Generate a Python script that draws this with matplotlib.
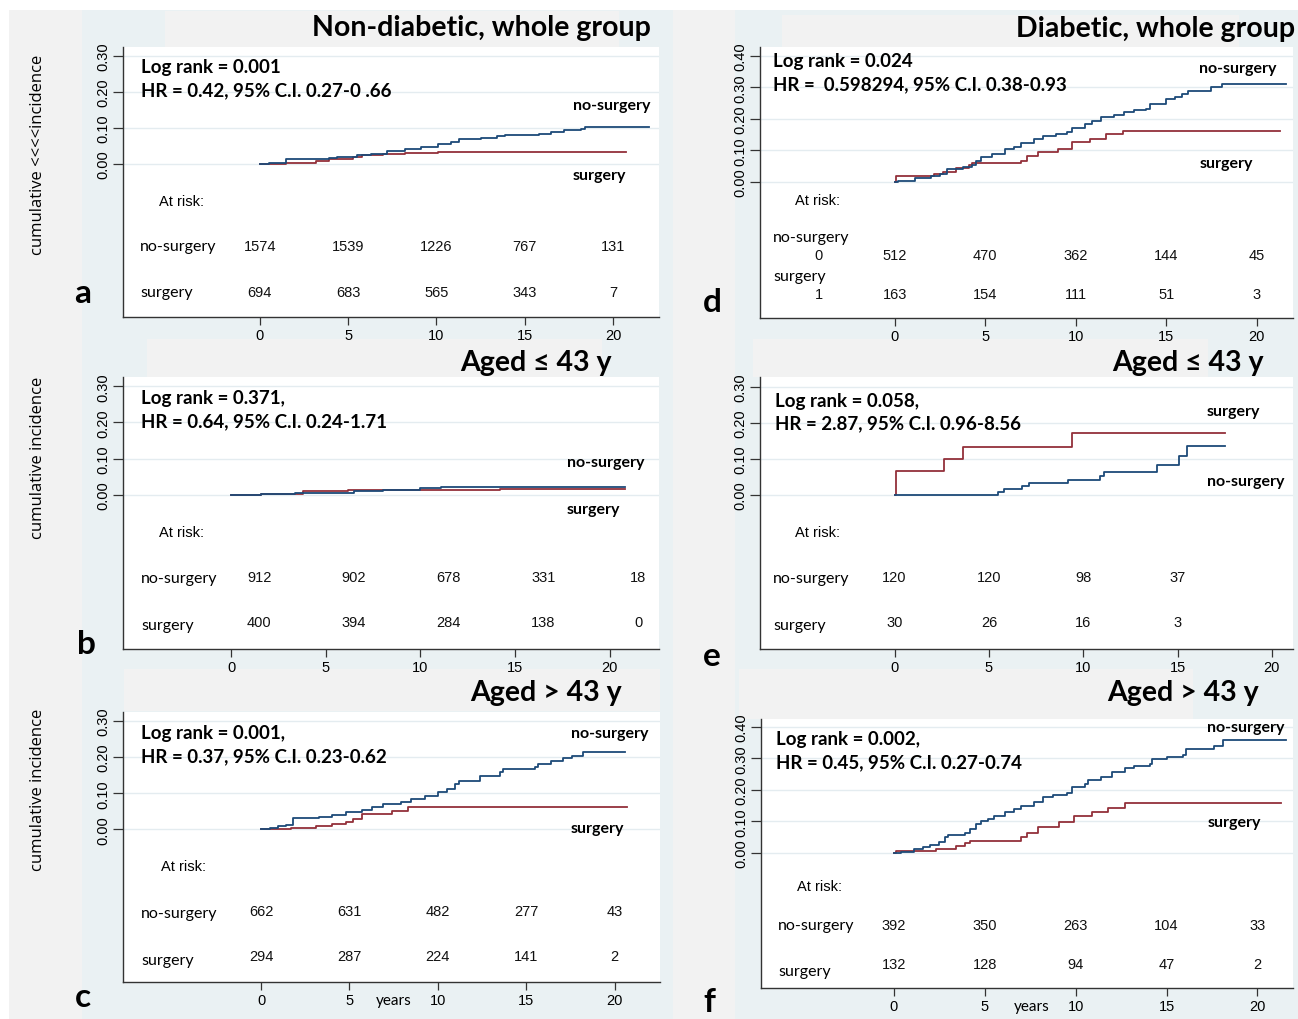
import matplotlib
matplotlib.use("Agg")
import matplotlib.pyplot as plt
import matplotlib.patches as patches
import matplotlib.transforms as mtransforms
from matplotlib.ticker import FormatStrFormatter

W, H = 1298, 1020

# ---------------- data ----------------
# panel a : non-diabetic, whole group
a_nos_t = [0, 0.5, 1.5, 3.9, 4.4, 5.5, 6.3, 7.2, 8.2, 9.1, 10.1, 10.8, 11.3, 12.5, 13.4, 13.9, 15.8, 16.5, 17.2, 18.2, 18.4, 22.0]
a_nos_v = [0, 0.004, 0.014, 0.017, 0.020, 0.024, 0.029, 0.035, 0.041, 0.047, 0.055, 0.061, 0.069, 0.072, 0.077, 0.081, 0.083, 0.089, 0.094, 0.098, 0.103, 0.103]
a_sur_t = [0, 1.5, 3.2, 3.9, 5.3, 5.8, 7.0, 8.2, 10.1, 14.1, 20.7]
a_sur_v = [0, 0.004, 0.008, 0.015, 0.019, 0.024, 0.027, 0.030, 0.032, 0.034, 0.034]
a_risk_nos = ["1574", "1539", "1226", "767", "131"]
a_risk_sur = ["694", "683", "565", "343", "7"]

# panel b : non-diabetic, aged <= 43
b_nos_t = [0, 1.6, 3.4, 5.1, 6.5, 8.0, 10.0, 11.1, 20.8]
b_nos_v = [0, 0.002, 0.004, 0.006, 0.011, 0.014, 0.018, 0.021, 0.021]
b_sur_t = [0, 1.6, 3.8, 6.2, 14.2, 20.8]
b_sur_v = [0, 0.003, 0.009, 0.012, 0.016, 0.016]
b_risk_nos = ["912", "902", "678", "331", "18"]
b_risk_sur = ["400", "394", "284", "138", "0"]

# panel c : non-diabetic, aged > 43
c_nos_t = [0, 0.5, 0.95, 1.4, 1.8, 3.3, 4.0, 4.8, 5.7, 6.3, 6.9, 7.9, 8.5, 9.3, 10.0, 10.5, 11.0, 11.2, 12.4, 13.5, 13.7, 15.5, 15.7, 16.4, 17.1, 17.6, 18.2, 20.6]
c_nos_v = [0, 0.004, 0.008, 0.012, 0.031, 0.033, 0.040, 0.047, 0.053, 0.061, 0.070, 0.077, 0.084, 0.093, 0.102, 0.112, 0.126, 0.135, 0.149, 0.158, 0.167, 0.172, 0.181, 0.190, 0.197, 0.202, 0.215, 0.215]
c_sur_t = [0, 1.7, 3.1, 4.0, 4.8, 5.2, 5.7, 7.4, 8.3, 10.1, 20.7]
c_sur_v = [0, 0.003, 0.010, 0.016, 0.021, 0.029, 0.041, 0.052, 0.061, 0.063, 0.063]
c_risk_nos = ["662", "631", "482", "277", "43"]
c_risk_sur = ["294", "287", "224", "141", "2"]

# panel d : diabetic, whole group
d_nos_t = [0, 0.2, 1.1, 2.0, 2.5, 2.9, 3.8, 4.3, 4.5, 4.75, 5.4, 6.1, 6.6, 7.0, 7.7, 8.2, 8.9, 9.5, 9.8, 10.5, 10.9, 11.4, 12.1, 12.7, 13.2, 13.9, 14.1, 15.0, 15.5, 15.9, 16.2, 17.5, 18.1, 21.6]
d_nos_v = [0, 0.004, 0.012, 0.018, 0.025, 0.041, 0.046, 0.055, 0.068, 0.078, 0.089, 0.104, 0.110, 0.123, 0.136, 0.147, 0.152, 0.159, 0.170, 0.184, 0.194, 0.205, 0.213, 0.223, 0.228, 0.231, 0.247, 0.263, 0.268, 0.279, 0.289, 0.300, 0.310, 0.310]
d_sur_t = [0, 0.1, 2.2, 2.7, 3.4, 4.1, 4.3, 7.0, 7.3, 7.9, 9.0, 9.8, 10.8, 11.7, 12.6, 21.3]
d_sur_v = [0, 0.018, 0.025, 0.033, 0.043, 0.055, 0.060, 0.068, 0.083, 0.094, 0.104, 0.126, 0.136, 0.152, 0.162, 0.162]
d_risk_nos = ["0", "512", "470", "362", "144", "45"]
d_risk_sur = ["1", "163", "154", "111", "51", "3"]

# panel e : diabetic, aged <= 43
e_nos_t = [0, 5.5, 5.8, 6.75, 7.1, 9.2, 10.9, 11.1, 13.9, 15.1, 15.5, 17.5]
e_nos_v = [0, 0.008, 0.017, 0.025, 0.033, 0.042, 0.054, 0.065, 0.084, 0.108, 0.137, 0.137]
e_sur_t = [0, 0.07, 2.6, 3.6, 9.4, 17.5]
e_sur_v = [0, 0.066, 0.099, 0.133, 0.173, 0.173]
e_risk_nos = ["120", "120", "98", "37"]
e_risk_sur = ["30", "26", "16", "3"]

# panel f : diabetic, aged > 43
f_nos_t = [0, 0.4, 1.1, 1.6, 2.0, 2.5, 2.8, 3.0, 3.9, 4.2, 4.5, 4.8, 5.2, 5.5, 6.1, 6.6, 7.0, 7.7, 8.2, 8.75, 9.5, 9.8, 10.5, 10.7, 11.4, 12.0, 12.7, 13.2, 14.1, 14.2, 15.0, 15.9, 16.1, 17.6, 18.1, 21.6]
f_nos_v = [0, 0.004, 0.013, 0.018, 0.025, 0.034, 0.050, 0.058, 0.063, 0.076, 0.092, 0.102, 0.108, 0.118, 0.129, 0.139, 0.150, 0.160, 0.177, 0.185, 0.190, 0.208, 0.218, 0.231, 0.240, 0.258, 0.269, 0.277, 0.282, 0.298, 0.303, 0.310, 0.329, 0.338, 0.358, 0.358]
f_sur_t = [0, 0.1, 2.3, 3.4, 3.9, 4.2, 7.0, 7.3, 7.95, 9.1, 9.9, 10.9, 11.8, 12.7, 21.3]
f_sur_v = [0, 0.007, 0.013, 0.023, 0.032, 0.037, 0.050, 0.062, 0.081, 0.097, 0.118, 0.129, 0.141, 0.157, 0.157]
f_risk_nos = ["392", "350", "263", "104", "33"]
f_risk_sur = ["132", "128", "94", "47", "2"]

risk_times = [0, 5, 10, 15, 20]
x_ticks = [0, 5, 10, 15, 20]

BLUE = "#1d4a78"
RED = "#93303a"
BG = "#eaf1f3"
GRAY = "#f2f2f2"
BOLD = ["Lato", "DejaVu Sans"]
REG = ["Liberation Sans", "DejaVu Sans"]
ROWF = ["Lato", "DejaVu Sans"]

fig = plt.figure(figsize=(W / 100, H / 100), dpi=100)
fig.patch.set_facecolor(BG)


def rect(x0, y0, x1, y1, color):
    fig.add_artist(patches.Rectangle((x0 / W, 1 - y1 / H), (x1 - x0) / W, (y1 - y0) / H,
                                     transform=fig.transFigure, facecolor=color,
                                     edgecolor="none", zorder=-5))


def ftext(x, y, s, **kw):
    fig.text(x / W, 1 - y / H, s, **kw)


# background pieces
rect(0, 0, W, 11, "white")
rect(0, 0, 9, H, "white")
rect(9, 11, 82, H, GRAY)
rect(673, 11, 735, H, GRAY)
rect(165, 12, 619, 48, GRAY)
rect(147, 340, 602, 378, GRAY)
rect(124, 670, 660, 712, GRAY)
rect(782, 16, 1239, 48, GRAY)
rect(753, 340, 1208, 378, GRAY)
rect(739, 670, 1193, 720, GRAY)


def make_panel(box, x0px, x20px, y0px, ytop_px, ytop, yticks):
    # box = (left, top, right, bottom) in pixels
    l, t, r, b = box
    ax = fig.add_axes([l / W, 1 - b / H, (r - l) / W, (b - t) / H])
    ppx = (x20px - x0px) / 20.0
    ppy = (y0px - ytop_px) / ytop
    ax.set_xlim((l - x0px) / ppx, (r - x0px) / ppx)
    ax.set_ylim((y0px - b) / ppy, (y0px - t) / ppy)
    ax.set_facecolor("white")
    for s in ["top", "right"]:
        ax.spines[s].set_visible(False)
    for s in ["left", "bottom"]:
        ax.spines[s].set_color("#333333")
        ax.spines[s].set_linewidth(1.0)
    ax.set_xticks(x_ticks)
    ax.set_yticks(yticks)
    ax.yaxis.set_major_formatter(FormatStrFormatter("%.2f"))
    ax.tick_params(axis="x", length=6, width=0.9, color="#333333", labelsize=10.5, pad=2)
    ax.tick_params(axis="y", length=7, width=0.9, color="#333333", labelsize=10.5, pad=2)
    for lab in ax.get_xticklabels() + ax.get_yticklabels():
        lab.set_family(REG)
    for lab in ax.get_yticklabels():
        lab.set_rotation(90)
        lab.set_va("center")
    for yv in yticks:
        ax.axhline(yv, color="#e4ecf0", lw=1.0, zorder=0)
    return ax


def risk_row(ax, times, counts, ypx):
    tr = mtransforms.blended_transform_factory(ax.transData, fig.transFigure)
    for tt, n in zip(times, counts):
        ax.text(tt, 1 - ypx / H, n, transform=tr, ha="center", va="center",
                fontsize=10.5, family=REG, color="#111111")


def curves(ax, nt, nv, st, sv):
    ax.step(st, sv, where="post", color=RED, lw=1.3, zorder=3)
    ax.step(nt, nv, where="post", color=BLUE, lw=1.3, zorder=4)


TS = 20.5  # title size
LS = 13.5  # log rank / HR size
GS = 11.5  # curve label size
RS = 11.5  # at-risk row label size

# ---- panel a ----
ax = make_panel((123, 48, 659, 318), 259.7, 613.2, 165, 57, 0.30, [0, 0.1, 0.2, 0.3])
curves(ax, a_nos_t, a_nos_v, a_sur_t, a_sur_v)
risk_row(ax, risk_times, a_risk_nos, 247)
risk_row(ax, risk_times, a_risk_sur, 293)
ftext(651, 28, "Non-diabetic, whole group", ha="right", va="center", fontsize=TS, weight="bold", family=BOLD)
ftext(141, 68, "Log rank = 0.001", va="center", fontsize=LS, weight="bold", family=BOLD)
ftext(141, 91, "HR = 0.42, 95% C.I. 0.27-0 .66", va="center", fontsize=LS, weight="bold", family=BOLD)
ftext(650, 106, "no-surgery", ha="right", va="center", fontsize=GS, weight="bold", family=BOLD)
ftext(573, 176, "surgery", va="center", fontsize=GS, weight="bold", family=BOLD)
ftext(159, 202, "At risk:", va="center", fontsize=10.5, family=REG)
ftext(140, 247, "no-surgery", va="center", fontsize=RS, family=ROWF)
ftext(140, 293, "surgery", va="center", fontsize=RS, family=ROWF)
ftext(83, 294, "a", ha="center", va="center", fontsize=24, weight="bold", family=BOLD)
ftext(38, 155, "cumulative <<<<incidence", ha="center", va="center", rotation=90, fontsize=12, family=["Open Sans", "DejaVu Sans"])

# ---- panel b ----
ax = make_panel((123, 378, 659, 650), 231, 609.8, 495.7, 387.3, 0.30, [0, 0.1, 0.2, 0.3])
curves(ax, b_nos_t, b_nos_v, b_sur_t, b_sur_v)
risk_row(ax, [tt + 1.5 for tt in risk_times], b_risk_nos, 578)
risk_row(ax, [tt + 1.5 for tt in risk_times], b_risk_sur, 623)
ftext(612, 363, "Aged \u2264 43 y", ha="right", va="center", fontsize=TS, weight="bold", family=BOLD)
ftext(141, 399, "Log rank = 0.371,", va="center", fontsize=LS, weight="bold", family=BOLD)
ftext(141, 422, "HR = 0.64, 95% C.I. 0.24-1.71", va="center", fontsize=LS, weight="bold", family=BOLD)
ftext(645, 463, "no-surgery", ha="right", va="center", fontsize=GS, weight="bold", family=BOLD)
ftext(567, 510, "surgery", va="center", fontsize=GS, weight="bold", family=BOLD)
ftext(159, 533, "At risk:", va="center", fontsize=10.5, family=REG)
ftext(141, 579, "no-surgery", va="center", fontsize=RS, family=ROWF)
ftext(141, 626, "surgery", va="center", fontsize=RS, family=ROWF)
ftext(86, 645, "b", ha="center", va="center", fontsize=24, weight="bold", family=BOLD)
ftext(38, 458, "cumulative incidence", ha="center", va="center", rotation=90, fontsize=12, family=["Open Sans", "DejaVu Sans"])

# ---- panel c ----
ax = make_panel((123, 713, 660, 983), 261, 614.5, 830.3, 722, 0.30, [0, 0.1, 0.2, 0.3])
curves(ax, c_nos_t, c_nos_v, c_sur_t, c_sur_v)
risk_row(ax, risk_times, c_risk_nos, 912)
risk_row(ax, risk_times, c_risk_sur, 957)
ftext(622, 693, "Aged > 43 y", ha="right", va="center", fontsize=TS, weight="bold", family=BOLD)
ftext(141, 734, "Log rank = 0.001,", va="center", fontsize=LS, weight="bold", family=BOLD)
ftext(141, 757, "HR = 0.37, 95% C.I. 0.23-0.62", va="center", fontsize=LS, weight="bold", family=BOLD)
ftext(648, 734, "no-surgery", ha="right", va="center", fontsize=GS, weight="bold", family=BOLD)
ftext(571, 829, "surgery", va="center", fontsize=GS, weight="bold", family=BOLD)
ftext(161, 867, "At risk:", va="center", fontsize=10.5, family=REG)
ftext(141, 914, "no-surgery", va="center", fontsize=RS, family=ROWF)
ftext(141, 961, "surgery", va="center", fontsize=RS, family=ROWF)
ftext(394, 1001, "years", ha="center", va="center", fontsize=11, family=ROWF)
ftext(83, 998, "c", ha="center", va="center", fontsize=24, weight="bold", family=BOLD)
ftext(38, 790, "cumulative incidence", ha="center", va="center", rotation=90, fontsize=12, family=["Open Sans", "DejaVu Sans"])

# ---- panel d ----
ax = make_panel((760, 48, 1293, 319), 894.6, 1256.6, 183, 56.7, 0.40, [0, 0.1, 0.2, 0.3, 0.4])
curves(ax, d_nos_t, d_nos_v, d_sur_t, d_sur_v)
risk_row(ax, [-4.2] + risk_times, d_risk_nos, 256)
risk_row(ax, [-4.2] + risk_times, d_risk_sur, 295)
ftext(1295, 29, "Diabetic, whole group", ha="right", va="center", fontsize=TS, weight="bold", family=BOLD)
ftext(773, 62, "Log rank = 0.024", va="center", fontsize=LS, weight="bold", family=BOLD)
ftext(773, 85, "HR =  0.598294, 95% C.I. 0.38-0.93", va="center", fontsize=LS, weight="bold", family=BOLD)
ftext(1276, 69, "no-surgery", ha="right", va="center", fontsize=GS, weight="bold", family=BOLD)
ftext(1200, 164, "surgery", va="center", fontsize=GS, weight="bold", family=BOLD)
ftext(795, 201, "At risk:", va="center", fontsize=10.5, family=REG)
ftext(773, 238, "no-surgery", va="center", fontsize=RS, family=ROWF)
ftext(773, 277, "surgery", va="center", fontsize=RS, family=ROWF)
ftext(712, 303, "d", ha="center", va="center", fontsize=24, weight="bold", family=BOLD)

# ---- panel e ----
ax = make_panel((760, 378, 1293, 650), 894.6, 1271.9, 496, 387.7, 0.30, [0, 0.1, 0.2, 0.3])
curves(ax, e_nos_t, e_nos_v, e_sur_t, e_sur_v)
risk_row(ax, risk_times[:4], e_risk_nos, 578)
risk_row(ax, risk_times[:4], e_risk_sur, 623)
ftext(1264, 363, "Aged \u2264 43 y", ha="right", va="center", fontsize=TS, weight="bold", family=BOLD)
ftext(775, 402, "Log rank = 0.058,", va="center", fontsize=LS, weight="bold", family=BOLD)
ftext(775, 424, "HR = 2.87, 95% C.I. 0.96-8.56", va="center", fontsize=LS, weight="bold", family=BOLD)
ftext(1207, 412, "surgery", va="center", fontsize=GS, weight="bold", family=BOLD)
ftext(1207, 482, "no-surgery", va="center", fontsize=GS, weight="bold", family=BOLD)
ftext(795, 533, "At risk:", va="center", fontsize=10.5, family=REG)
ftext(773, 579, "no-surgery", va="center", fontsize=RS, family=ROWF)
ftext(773, 626, "surgery", va="center", fontsize=RS, family=ROWF)
ftext(712, 657, "e", ha="center", va="center", fontsize=24, weight="bold", family=BOLD)

# ---- panel f ----
ax = make_panel((761, 720, 1293, 989), 893.8, 1257.4, 854, 727.7, 0.40, [0, 0.1, 0.2, 0.3, 0.4])
curves(ax, f_nos_t, f_nos_v, f_sur_t, f_sur_v)
risk_row(ax, risk_times, f_risk_nos, 926)
risk_row(ax, risk_times, f_risk_sur, 965)
ftext(1259, 693, "Aged > 43 y", ha="right", va="center", fontsize=TS, weight="bold", family=BOLD)
ftext(776, 740, "Log rank = 0.002,", va="center", fontsize=LS, weight="bold", family=BOLD)
ftext(776, 763, "HR = 0.45, 95% C.I. 0.27-0.74", va="center", fontsize=LS, weight="bold", family=BOLD)
ftext(1285, 728, "no-surgery", ha="right", va="center", fontsize=GS, weight="bold", family=BOLD)
ftext(1208, 823, "surgery", va="center", fontsize=GS, weight="bold", family=BOLD)
ftext(797, 887, "At risk:", va="center", fontsize=10.5, family=REG)
ftext(778, 926, "no-surgery", va="center", fontsize=RS, family=ROWF)
ftext(778, 972, "surgery", va="center", fontsize=RS, family=ROWF)
ftext(1032, 1007, "years", ha="center", va="center", fontsize=11, family=ROWF)
ftext(709, 1003, "f", ha="center", va="center", fontsize=24, weight="bold", family=BOLD)

fig.savefig("out.png", dpi=100, facecolor=fig.get_facecolor())
